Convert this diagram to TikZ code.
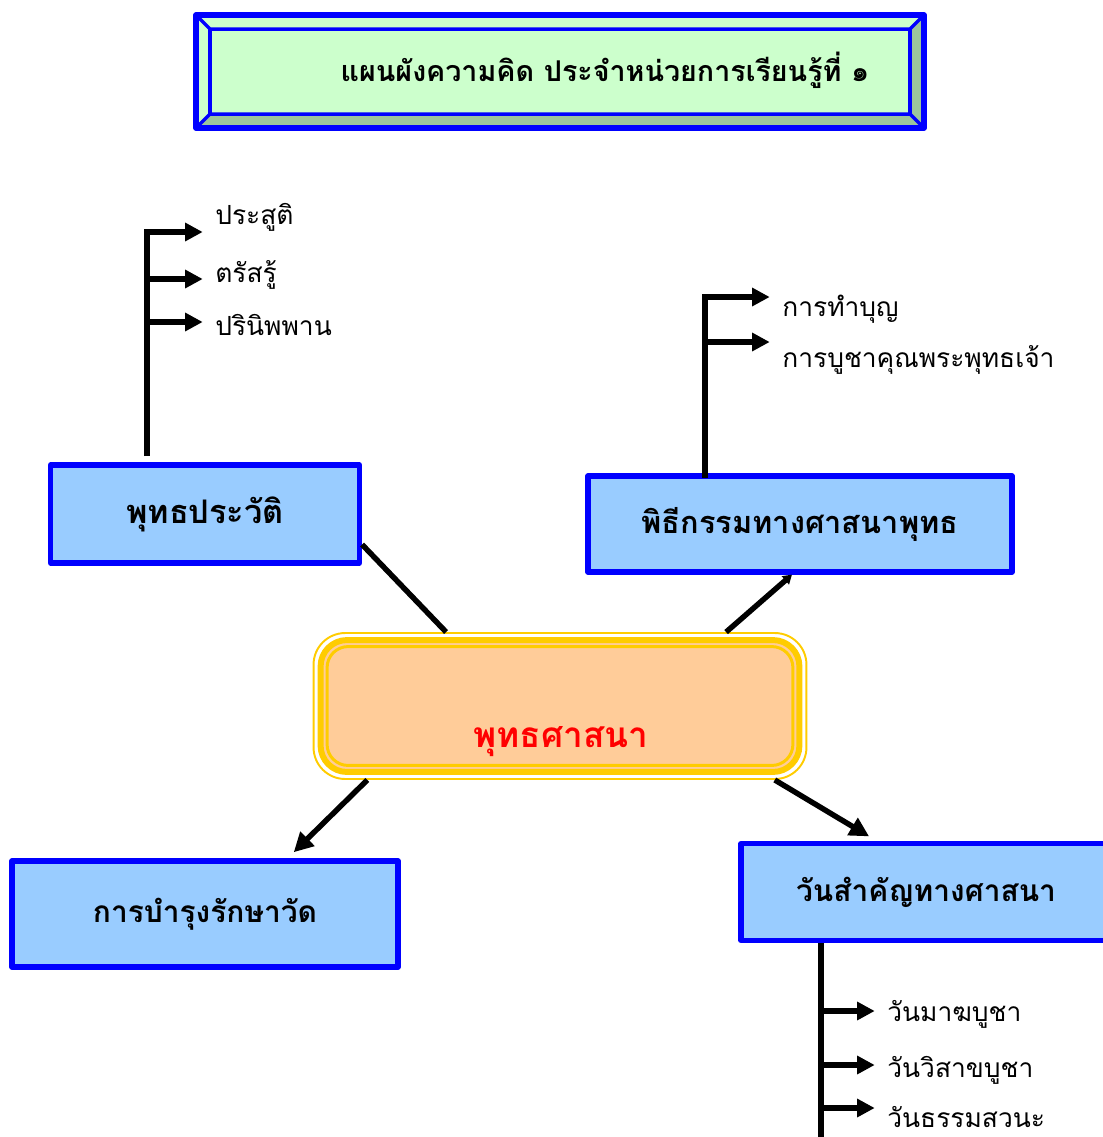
\documentclass[tikz,border=0pt]{standalone}
\usepackage{fontspec}
\newfontfamily\thaifont[Script=Thai]{Loma}
\usetikzlibrary{arrows.meta,calc}
\definecolor{boxblue}{HTML}{99CCFF}
\definecolor{framegreen}{HTML}{CCFFCC}
\definecolor{shadegreen}{HTML}{9CC49C}
\definecolor{peach}{HTML}{FFCC99}
\definecolor{gold}{HTML}{FFCC00}
\begin{document}
\begin{tikzpicture}[x=0.02cm,y=-0.02cm,>={Triangle[length=10pt,width=10pt]},line join=round,
	font=\thaifont\fontsize{15}{18}\selectfont,
	topic/.style={draw=blue,line width=3pt,fill=boxblue,inner sep=0pt,font=\thaifont\bfseries\fontsize{17.5}{21}\selectfont},
	link/.style={line width=3.1pt,->,>={Triangle[length=11pt,width=11pt]}},
	spine/.style={line width=3.8pt},
	branch/.style={line width=3pt,->,shorten >=7pt},
	item/.style={anchor=base west,inner sep=0pt}]
	\useasboundingbox (0,0) rectangle (1103,1137);
	% title frame
	\fill[framegreen] (196,15) rectangle (924,128);
	\fill[shadegreen] (924,15) -- (910,29) -- (910,114) -- (210,114) -- (196,128) -- (924,128) -- cycle;
	\draw[blue,line width=3pt] (196,15) rectangle (924,128);
	\draw[blue,line width=2pt] (210,29) rectangle (910,114)
	(196,15) -- (210,29) (924,15) -- (910,29) (196,128) -- (210,114) (924,128) -- (910,114);
	\node[font=\thaifont\bfseries\fontsize{16.3}{20}\selectfont] (title) at (605,70) {แผนผังความคิด ประจำหน่วยการเรียนรู้ที่ ๑};
	% centre
	\node[draw=gold,line width=1.1pt,rounded corners=18pt,minimum width=9.86cm,minimum height=2.92cm] (religion) at (560,706) {};
	\draw[gold,line width=3.4pt,fill=peach,rounded corners=15pt] ($(religion.north west)+(8,8)$) rectangle ($(religion.south east)+(-8,-8)$);
	\draw[gold,line width=1.7pt,rounded corners=12pt] ($(religion.north west)+(14.5,14.5)$) rectangle ($(religion.south east)+(-14.5,-14.5)$);
	\node[anchor=base,text=red,font=\thaifont\bfseries\fontsize{20}{24}\selectfont] (religionlabel) at (561,747) {พุทธศาสนา};
	% topics
	\node[topic,font=\thaifont\bfseries\fontsize{18.5}{22}\selectfont,minimum width=6.18cm,minimum height=1.96cm] (buddhahist) at (205,514) {พุทธประวัติ};
	\node[topic,minimum width=8.48cm,minimum height=1.92cm] (rites) at (800,524) {พิธีกรรมทางศาสนาพุทธ};
	\node[topic,font=\thaifont\bfseries\fontsize{17}{21}\selectfont,minimum width=7.72cm,minimum height=2.12cm] (temple) at (205,914) {การบำรุงรักษาวัด};
	\node[topic,font=\thaifont\bfseries\fontsize{17}{21}\selectfont,minimum width=7.4cm,minimum height=1.94cm] (holydays) at (926,892) {วันสำคัญทางศาสนา};
	\draw[line width=3.1pt] (buddhahist.-11) -- (religion.147);
	\draw[link,>={Triangle[length=5pt,width=6pt]}] (religion.24) -- (rites.-99);
	\draw[link,shorten >=5pt] (religion.201) -- (temple.34);
	\draw[link,shorten >=5pt] (religion.-19) -- (holydays.134);
	% life of the Buddha
	\node[item] (birth) at (215,224) {ประสูติ};
	\node[item] (enlight) at (215,282) {ตรัสรู้};
	\node[item] (nirvana) at (215,335) {ปรินิพพาน};
	\coordinate (bh1) at (147,232);
	\coordinate (bh2) at (147,279);
	\coordinate (bh3) at (147,322);
	\coordinate (bhfoot) at (147,456);
	\draw[spine] (bhfoot) -- ([yshift=1.5pt]bh1);
	\draw[branch] (bh1) -- (bh1 -| birth.west);
	\draw[branch] (bh2) -- (bh2 -| enlight.west);
	\draw[branch] (bh3) -- (bh3 -| nirvana.west);
	% rites
	\node[item] (merit) at (782,316) {การทำบุญ};
	\node[item] (worship) at (782,367) {การบูชาคุณพระพุทธเจ้า};
	\coordinate (rt1) at (705,297);
	\coordinate (rt2) at (705,342);
	\coordinate (rtfoot) at (705,478);
	\draw[spine] (rtfoot) -- ([yshift=1.5pt]rt1);
	\draw[branch] (rt1) -- (rt1 -| merit.west);
	\draw[branch] (rt2) -- (rt2 -| worship.west);
	% holy days
	\node[item] (magha) at (887,1021) {วันมาฆบูชา};
	\node[item] (visakha) at (887,1077) {วันวิสาขบูชา};
	\node[item] (sabbath) at (887,1127) {วันธรรมสวนะ};
	\coordinate (hd1) at (821,1011);
	\coordinate (hd2) at (821,1065);
	\coordinate (hd3) at (821,1108);
	\coordinate (hdfoot) at (821,1140);
	\draw[spine] (holydays.south -| hd1) -- (hdfoot);
	\draw[branch] (hd1) -- (hd1 -| magha.west);
	\draw[branch] (hd2) -- (hd2 -| visakha.west);
	\draw[branch] (hd3) -- (hd3 -| sabbath.west);
\end{tikzpicture}
\end{document}
